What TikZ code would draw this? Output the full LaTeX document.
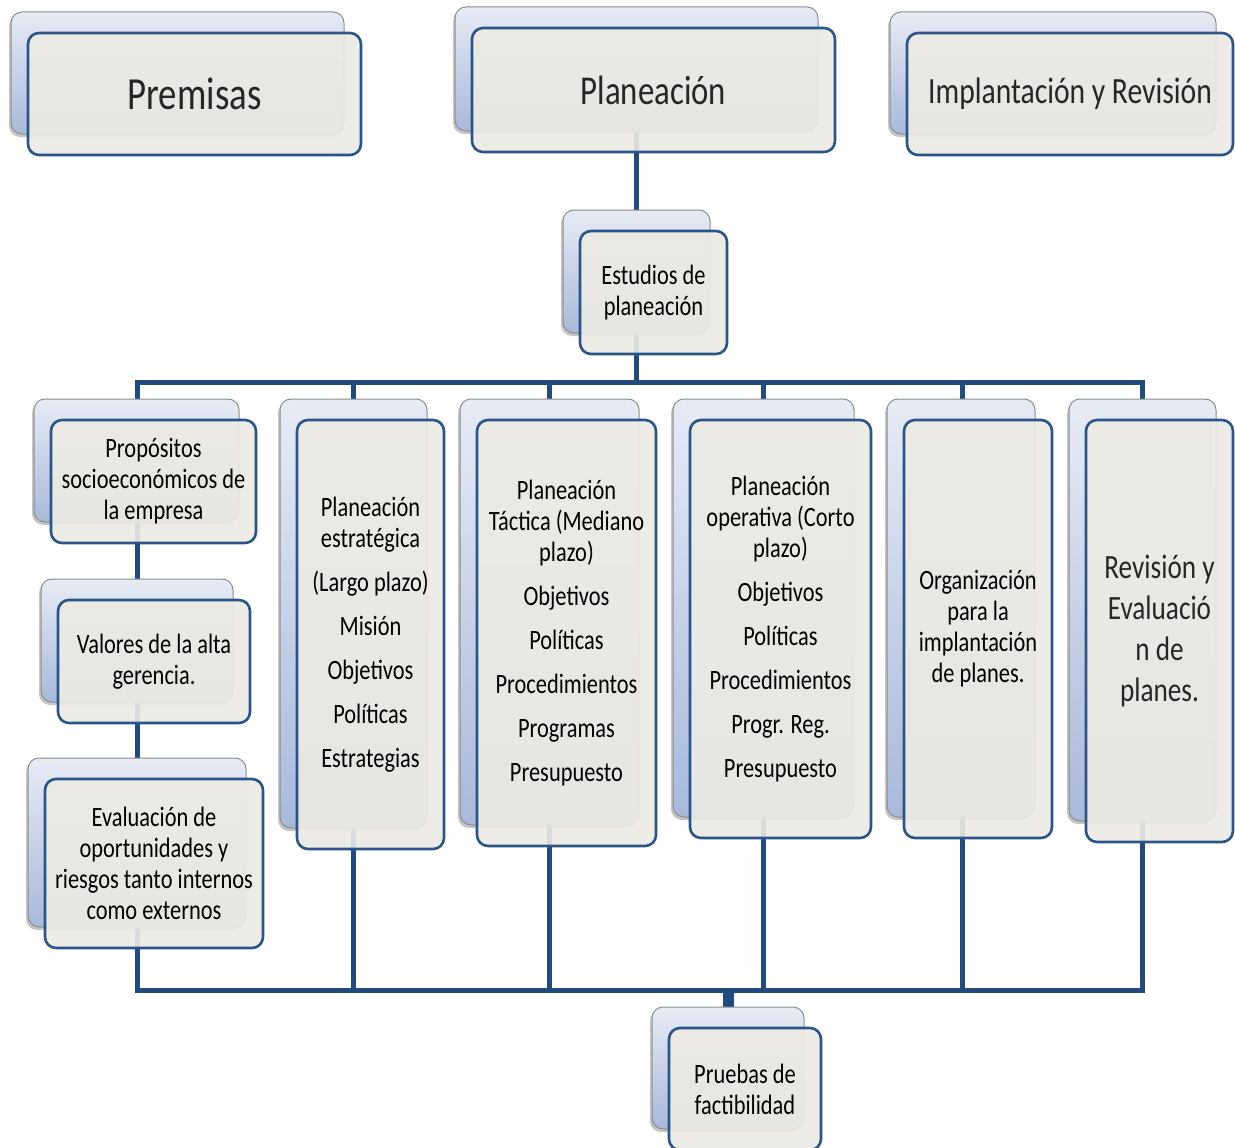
\documentclass[tikz,border=0pt]{standalone}
\usepackage{fontspec}
\setmainfont{Carlito}[FakeStretch=0.8]
\usetikzlibrary{shadows}
\definecolor{lineblue}{HTML}{214B7E}
\definecolor{frameblue}{HTML}{2A5589}
\definecolor{cream}{HTML}{EDEBE4}
\definecolor{backtop}{HTML}{E7EBF5}
\definecolor{backbot}{HTML}{A8B9DA}
\tikzset{
  conn/.style={draw=lineblue, line width=5pt, line cap=rect},
  backbox/.style={draw=black!45, line width=1pt, rounded corners=11pt,
    top color=backtop, bottom color=backbot,
    drop shadow={shadow xshift=-2pt, shadow yshift=-3pt, opacity=0.45},
    inner sep=0pt, xshift=-17pt, yshift=21pt},
  frontbox/.style={draw=frameblue, line width=2.6pt, rounded corners=11pt,
    fill=cream, fill opacity=0.9, text opacity=1, inner sep=0pt, align=center},
  small/.style={font=\fontsize{28}{31}\selectfont, text=black},
  big/.style={text=black!85},
}
\newcommand\duo[7]{%
  \node[backbox, minimum width=#4pt, minimum height=#5pt] (#1-b) at (#2,#3) {};
  \node[frontbox, minimum width=#4pt, minimum height=#5pt, #6] (#1) at (#2,#3) {#7};
}
\begin{document}
\begin{tikzpicture}[x=1pt,y=-1pt]
\useasboundingbox[fill=white] (0,0) rectangle (1235,1148);
\coordinate (tbus) at (0,382);
\coordinate (bbus) at (0,990);
\coordinate (plan-c) at (636.5,69);
\coordinate (prop-c) at (137,461);
\coordinate (c2-c) at (353.5,613);
\coordinate (c3-c) at (549.5,612);
\coordinate (c4-c) at (763.5,608);
\coordinate (c5-c) at (962,608);
\coordinate (c6-c) at (1142.5,610);
\coordinate (prue-c) at (728,1068);
% connectors
\draw[conn] (plan-c) -- (plan-c |- tbus);
\draw[conn] (prop-c |- tbus) -- (c6-c |- tbus);
\draw[conn] (prop-c |- bbus) -- (c6-c |- bbus);
\foreach \c in {prop-c,c2-c,c3-c,c4-c,c5-c,c6-c}
  \draw[conn] (\c |- tbus) -- (\c |- bbus);
\draw[draw=lineblue, line width=11pt] (prue-c |- bbus) -- (prue-c);
% boxes
\duo{prem}{194.5}{94}{333}{122}{big, font=\fontsize{46}{50}\selectfont}{Premisas}
\duo{plan}{653.5}{90}{363}{124}{big, font=\fontsize{41}{46}\selectfont}{Planeación}
\duo{impl}{1070}{94}{326}{122}{big, font=\fontsize{37}{42}\selectfont}{Implantación y Revisión}
\duo{est}{653.5}{292.5}{147}{123}{small}{Estudios de\\planeación}
\duo{prop}{153.5}{481.5}{205}{123}{small}{Propósitos\\socioeconómicos de\\la empresa}
\duo{val}{154}{661.5}{192}{123}{small}{Valores de la alta\\gerencia.}
\duo{eva}{154}{863.5}{218}{169}{small}{Evaluación de\\oportunidades y\\riesgos tanto internos\\como externos}
\duo{c2}{370.5}{634.5}{147}{429}{small}{Planeación\\estratégica\\[13pt](Largo plazo)\\[13pt]Misión\\[13pt]Objetivos\\[13pt]Políticas\\[13pt]Estrategias}
\duo{c3}{566.5}{633}{179}{426}{small}{Planeación\\Táctica (Mediano\\plazo)\\[13pt]Objetivos\\[13pt]Políticas\\[13pt]Procedimientos\\[13pt]Programas\\[13pt]Presupuesto}
\duo{c4}{780.5}{629}{181}{418}{small}{Planeación\\operativa (Corto\\plazo)\\[13pt]Objetivos\\[13pt]Políticas\\[13pt]Procedimientos\\[13pt]Progr. Reg.\\[13pt]Presupuesto}
\duo{c5}{978}{629}{148}{418}{small}{Organización\\para la\\implantación\\de planes.}
\duo{c6}{1159.5}{631}{147}{422}{big, font=\fontsize{34}{41}\selectfont}{Revisión y\\Evaluació\\n de\\planes.}
\duo{prue}{745}{1089}{152}{122}{small}{Pruebas de\\factibilidad}
\end{tikzpicture}
\end{document}
